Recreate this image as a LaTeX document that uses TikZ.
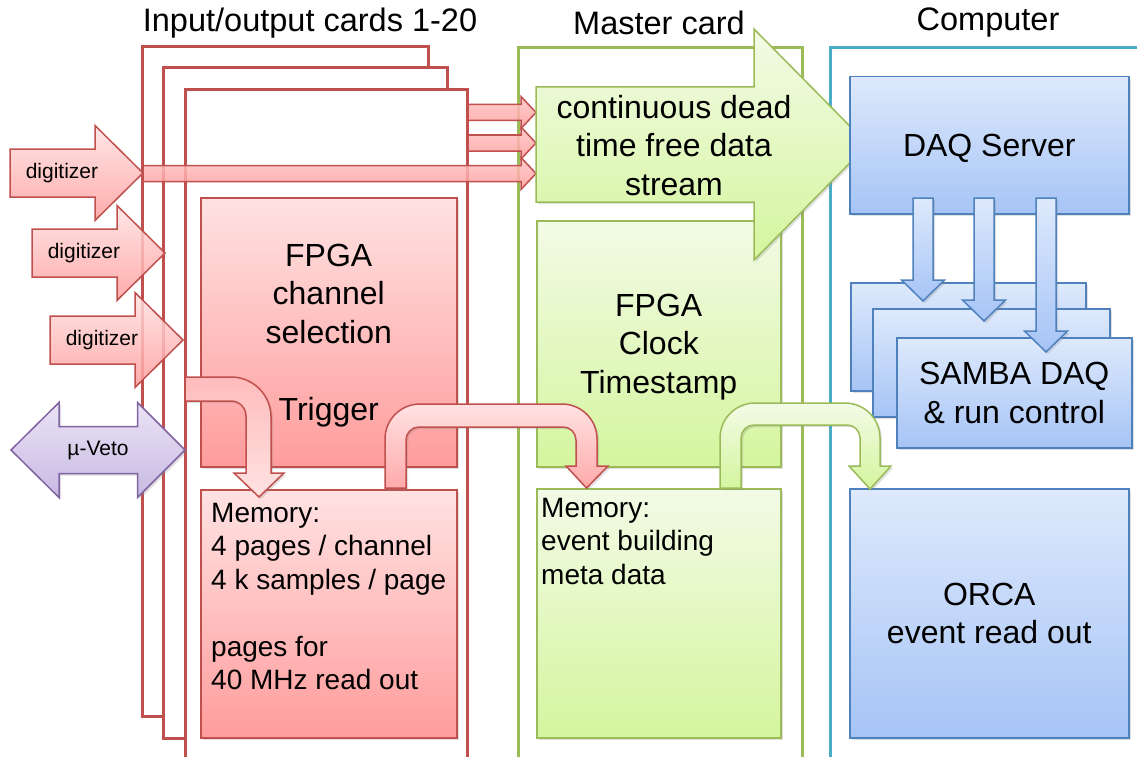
\documentclass[tikz,border=0pt]{standalone}
\usepackage{fontspec}
\setmainfont{Liberation Sans}
\usetikzlibrary{shadows}

\definecolor{cardred}{HTML}{C0504D}
\definecolor{redtop}{HTML}{FFE2E2}
\definecolor{redbot}{HTML}{FF9C9C}
\definecolor{cardgreen}{HTML}{9BBB59}
\definecolor{greentop}{HTML}{F2FBE6}
\definecolor{greenbot}{HTML}{D5F59E}
\definecolor{compblue}{HTML}{4BACC6}
\definecolor{boxblue}{HTML}{4F81BD}
\definecolor{bluetop}{HTML}{DEE9FC}
\definecolor{bluebot}{HTML}{A6C4F6}
\definecolor{vetoline}{HTML}{8064A2}
\definecolor{vetotop}{HTML}{EAE3F5}
\definecolor{vetobot}{HTML}{C7BAE3}

\tikzset{
  card/.style={line width=3pt, fill=white},
  boxshadow/.style={drop shadow={opacity=0.25,shadow xshift=2pt,shadow yshift=-2pt}},
  redfill/.style={draw=cardred, line width=1.5pt, top color=redtop, bottom color=redbot},
  greenfill/.style={draw=cardgreen, line width=1.5pt, top color=greentop, bottom color=greenbot},
  bluefill/.style={draw=boxblue, line width=1.5pt, top color=bluetop, bottom color=bluebot},
  box/.style={anchor=north west, inner sep=0pt, boxshadow},
  titletext/.style={font=\fontsize{32.5}{38}\selectfont},
  bigtext/.style={font=\fontsize{32}{38.5}\selectfont, align=center, text depth=0pt},
  memtext/.style={font=\fontsize{28}{33.5}\selectfont, align=left, anchor=north west, inner sep=0pt},
  smalltext/.style={font=\fontsize{21}{25}\selectfont}
}

\begin{document}
\begin{tikzpicture}[x=1pt,y=-1pt]
\useasboundingbox (0,0) rectangle (1137,757);

% titles
\node[titletext] (iotitle)     at (310,23) {Input/output cards 1-20};
\node[titletext] (mastertitle) at (659,23) {Master card};
\node[titletext] (comptitle)   at (988,23) {Computer};

% card frames
\foreach \l/\t/\r/\b in {142/47/428/716, 163/68/447/738, 185/90/467/775}
    \draw[card, draw=cardred] (\l,\t) rectangle (\r,\b);
\draw[card, draw=cardgreen] (518,48) rectangle (802,775);
\draw[card, draw=compblue]  (830,48) rectangle (1150,775);

% streams into the master card
\foreach \x/\y in {468/112.5, 468/143, 143/173.5}
    \draw[redfill, top color=redtop!60!redbot, fill opacity=0.85] (\x,\y-8) -- (521,\y-8) -- (521,\y-16)
        -- (536,\y) -- (521,\y+16) -- (521,\y+8) -- (\x,\y+8) -- cycle;

% digitizer inputs
\foreach \x/\y/\n in {10/173/a, 32/253/b, 50/340/c}{%
    \draw[redfill, fill opacity=0.85] (\x,\y-24) -- ++(85,0) -- ++(0,-23.5) -- ++(48,47.5)
        -- ++(-48,47.5) -- ++(0,-23.5) -- ++(-85,0) -- cycle;
    \node[smalltext] (dig\n) at (\x+52,\y) {digitizer};
}

% muon veto
\draw[draw=vetoline, line width=1.5pt, top color=vetotop, bottom color=vetobot, boxshadow]
    (11,450) -- (59,402.5) -- (59,426.5) -- (137.5,426.5) -- (137.5,402.5) -- (185,450)
    -- (137.5,497.5) -- (137.5,473.5) -- (59,473.5) -- (59,497.5) -- cycle;
\node[smalltext] (veto) at (98,450) {µ-Veto};

% input/output card
\node[box, redfill, bigtext, minimum width=256pt, minimum height=269pt] (fpgaio) at (200,197)
    {FPGA\\channel\\selection\\[38.5pt]Trigger};
\node[box, redfill, minimum width=256pt, minimum height=248pt] (memio) at (200,489) {};
\node[memtext] (memiotext) at (211,503)
    {Memory:\\4 pages / channel\\4 k samples / page\\[33.5pt]pages for\\40 MHz read out};

% master card
\node[box, greenfill, bigtext, minimum width=244pt, minimum height=246pt] (fpgamaster) at (536,220)
    {FPGA\\Clock\\Timestamp};
\node[box, greenfill, minimum width=244pt, minimum height=249pt] (memmaster) at (536,488) {};
\node[memtext] (memmastertext) at (541,498) {Memory:\\event building\\meta data};

% data stream
\draw[greenfill, boxshadow] (536,87) -- (754,87) -- (754,29) -- (868,144.5) -- (754,260)
    -- (754,202) -- (536,202) -- cycle;
\node[bigtext] (stream) at (674,145) {continuous dead\\time free data\\stream};

% computer
\node[box, bluefill, bigtext, minimum width=279pt, minimum height=137pt] (daq) at (849,76) {DAQ Server};
\node[box, bluefill, minimum width=235pt, minimum height=108pt] (samba1) at (850,282) {};
\node[box, bluefill, minimum width=237pt, minimum height=108pt] (samba2) at (872,308) {};
\node[box, bluefill, bigtext, minimum width=235pt, minimum height=110pt] (samba3) at (896,337)
    {SAMBA DAQ\\\& run control};
\node[box, bluefill, bigtext, minimum width=279pt, minimum height=249pt] (orca) at (849,488)
    {ORCA\\event read out};

% bent arrows
\draw[redfill, top color=redbot!55!redtop, bottom color=redtop, boxshadow]
    (185,377) -- (231,377) arc[start angle=-90, end angle=0, radius=40] -- (271,473) -- (284,473)
    -- (259,497) -- (234,473) -- (246,473) -- (246,416) arc[start angle=0, end angle=-90, radius=15]
    -- (185,401) -- cycle;
\draw[redfill, top color=redtop, bottom color=redbot!80!redtop, boxshadow]
    (385,488) -- (385,439) arc[start angle=180, end angle=270, radius=35] -- (562,404)
    arc[start angle=270, end angle=360, radius=35] -- (597,466) -- (608,466) -- (586.5,488)
    -- (566,466) -- (576,466) -- (576,440) arc[start angle=0, end angle=-90, radius=13]
    -- (419,427) arc[start angle=270, end angle=180, radius=13] -- (406,488) -- cycle;
\draw[greenfill, boxshadow]
    (720,488) -- (720,438) arc[start angle=180, end angle=270, radius=35] -- (845,403)
    arc[start angle=270, end angle=360, radius=35] -- (880,466) -- (891,466) -- (870,489)
    -- (849,466) -- (860,466) -- (860,438) arc[start angle=0, end angle=-90, radius=13]
    -- (754,425) arc[start angle=270, end angle=180, radius=13] -- (741,488) -- cycle;

% server to samba
\foreach \x/\y in {923/280, 984/300, 1046/331}
    \draw[bluefill, boxshadow] (\x-10,198) -- (\x+10,198) -- (\x+10,\y) -- (\x+21.5,\y)
        -- (\x,\y+21) -- (\x-21.5,\y) -- (\x-10,\y) -- cycle;
\end{tikzpicture}
\end{document}
